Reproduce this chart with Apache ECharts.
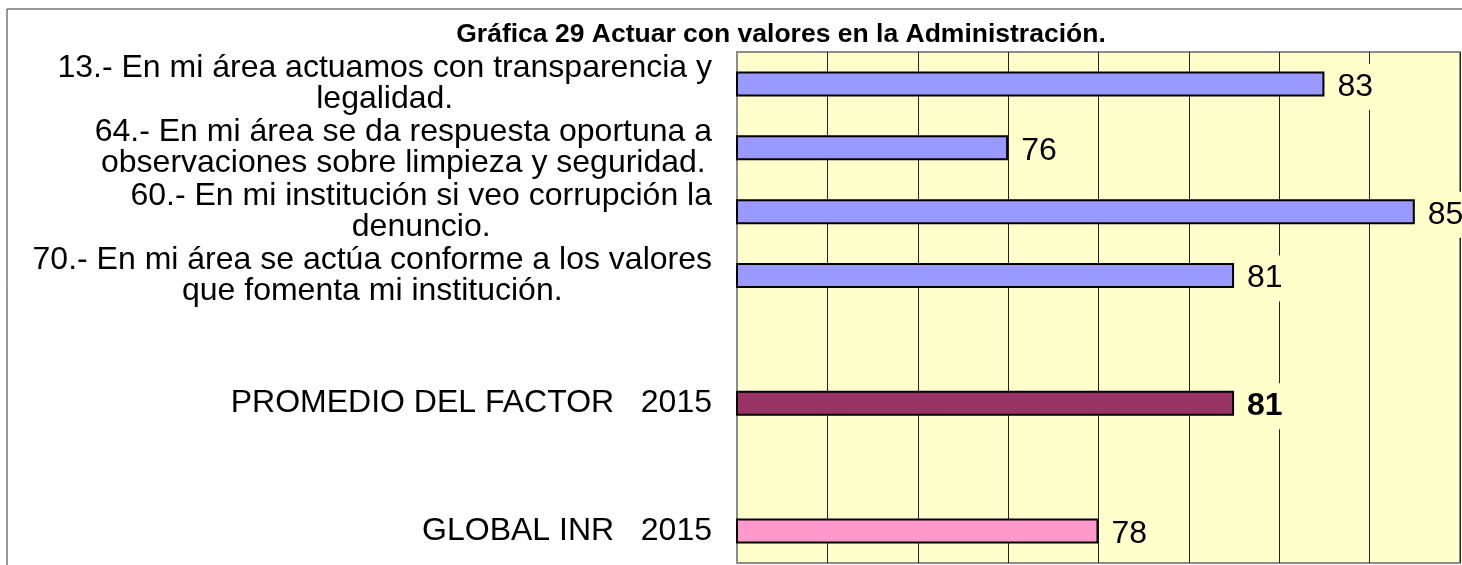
<!DOCTYPE html>
<html>
<head>
<meta charset="utf-8">
<script src="https://cdn.jsdelivr.net/npm/echarts@6/dist/echarts.min.js"></script>
<style>
  html, body { margin: 0; padding: 0; background: #fff; }
  #barChart { width: 1462px; height: 565px; }
</style>
</head>
<body>
<div id="barChart"></div>
<script>
// datos de la gráfica
const categories = [
  '13.- En mi área actuamos con transparencia y\nlegalidad.',
  '64.- En mi área se da respuesta oportuna a\nobservaciones sobre limpieza y seguridad.',
  '60.- En mi institución si veo corrupción la\ndenuncio.',
  '70.- En mi área se actúa conforme a los valores\nque fomenta mi institución.',
  '',
  'PROMEDIO DEL FACTOR   2015',
  ' ',
  'GLOBAL INR   2015'
]
const values = [83, 76, 85, 81, null, 81, null, 78]
const xTicks = { min: 70, max: 86, interval: 2 }

const FONT = "'Liberation Sans', Arial, sans-serif"
const barColors = ['#9999FF', '#9999FF', '#9999FF', '#9999FF', '#9999FF', '#993366', '#9999FF', '#FF99CC']

const barChart = echarts.init(document.getElementById('barChart'), null, { renderer: 'canvas' })

const option = {
  animation: false,
  textStyle: { fontFamily: FONT },
  title: {
    text: 'Gráfica 29 Actuar con valores en la Administración.',
    left: 776,
    top: 16,
    textAlign: 'center',
    textStyle: {
      color: '#000',
      fontWeight: 'bold',
      fontSize: 26.5,
      fontFamily: FONT
    }
  },
  graphic: [{
    type: 'rect',
    silent: true,
    shape: { x: 7, y: 9, width: 1500, height: 600 },
    style: { fill: null, stroke: '#333', lineWidth: 1 }
  }],
  grid: {
    left: 737,
    right: 2,
    top: 52,
    bottom: 2,
    show: true,
    backgroundColor: '#FFFFCC',
    borderColor: '#8c8c8c',
    borderWidth: 2
  },
  xAxis: {
    type: 'value',
    min: xTicks.min,
    max: xTicks.max,
    interval: xTicks.interval,
    axisLabel: { show: false },
    axisTick: { show: false },
    axisLine: { show: false },
    splitLine: {
      lineStyle: { color: '#222', width: 1 }
    }
  },
  yAxis: {
    type: 'category',
    inverse: true,
    data: categories,
    axisLine: {
      lineStyle: { color: '#8c8c8c', width: 2 }
    },
    axisTick: {
      length: 9,
      lineStyle: { color: '#8c8c8c', width: 1 }
    },
    axisLabel: {
      margin: 25,
      formatter: function (value) {
        if (!value.trim()) return ''
        return value.split('\n').map(l => '{c|' + l + '}').join('\n')
      },
      rich: {
        c: {
          align: 'center',
          color: '#000',
          fontSize: 32,
          lineHeight: 31,
          fontFamily: FONT
        }
      }
    }
  },
  series: [{
    type: 'bar',
    barWidth: 25,
    data: values.map((v, i) => ({
      value: v,
      itemStyle: { color: barColors[i] },
      label: { fontWeight: i === 5 ? 'bold' : 'normal' }
    })),
    itemStyle: {
      borderColor: '#000',
      borderWidth: 2
    },
    label: {
      show: true,
      position: 'right',
      distance: 10,
      offset: [0, 3],
      color: '#000',
      fontSize: 32,
      fontFamily: FONT,
      backgroundColor: '#FFFFCC',
      padding: [8, 3, 6, 3]
    },
    z: 3
  }]
}

barChart.setOption(option)
</script>
</body>
</html>
